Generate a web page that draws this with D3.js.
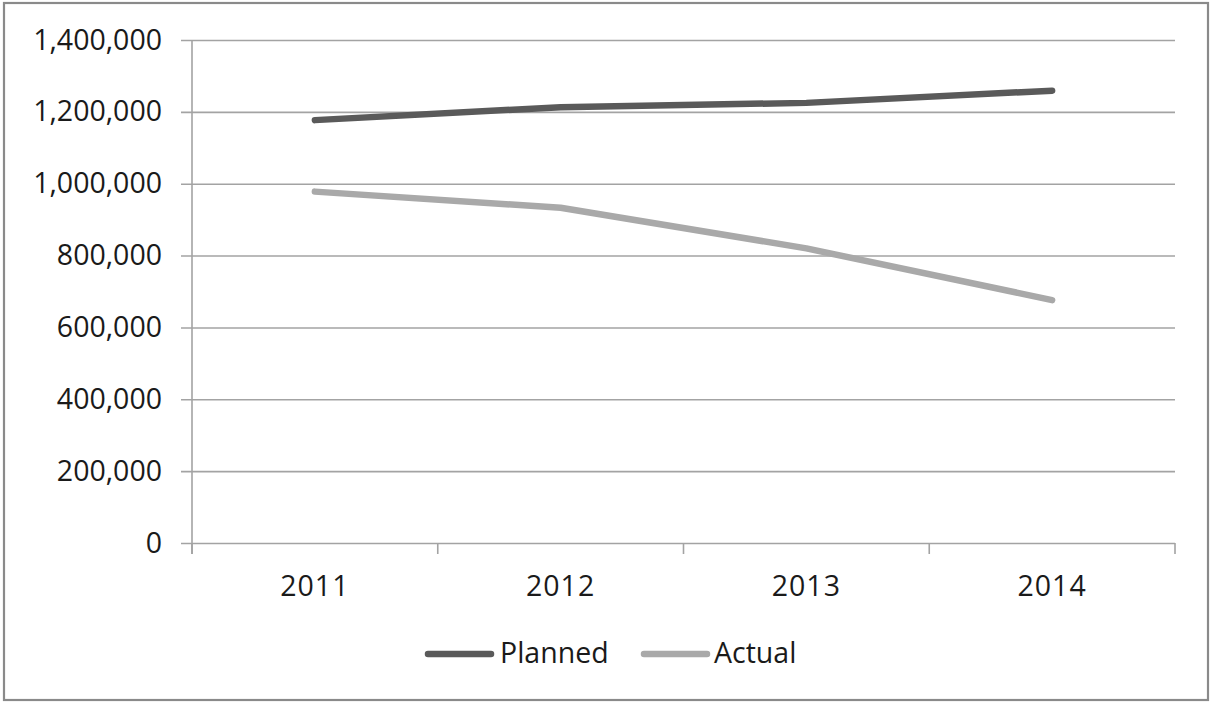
<!DOCTYPE html>
<html>
<head>
<meta charset="utf-8">
<script src="https://cdn.jsdelivr.net/npm/d3@7"></script>
<style>
  html, body { margin: 0; padding: 0; background: #fff; }
  svg { display: block; }
  text { font-family: "Open Sans", "Noto Sans", sans-serif; fill: #1a1a1a; }
</style>
</head>
<body>
<svg id="chart" width="1210" height="702"></svg>
<script>
// Chart data
const years = ["2011", "2012", "2013", "2014"];
const planned = [1177000, 1213000, 1225000, 1259000];
const actual = [978000, 933000, 820000, 676000];
const yTicks = [0, 200000, 400000, 600000, 800000, 1000000, 1200000, 1400000];
const seriesNames = ["Planned", "Actual"];
const seriesColors = ["#5a5a5a", "#a9a9a9"];

const m = { left: 192, right: 1175, top: 40, bottom: 543 };
const fontSize = "28.5px";

const svg = d3.select("#chart");

// outer frame
svg.append("rect")
  .attr("x", 4).attr("y", 3)
  .attr("width", 1204).attr("height", 697)
  .attr("fill", "#fff")
  .attr("stroke", "#8a8a8a")
  .attr("stroke-width", 2.2);

const x = d3.scaleBand().domain(years).range([m.left, m.right]);
const y = d3.scaleLinear().domain([0, 1400000]).range([m.bottom, m.top]);

const gridColor = "#a3a3a3";
const fmt = d3.format(",");

// horizontal gridlines + y axis labels
const yAxis = d3.axisLeft(y)
  .tickValues(yTicks)
  .tickFormat(fmt)
  .tickSize(-(m.right - m.left))
  .tickPadding(30);

const gy = svg.append("g")
  .attr("transform", `translate(${m.left},0)`)
  .call(yAxis);
gy.select(".domain").remove();
gy.selectAll(".tick line")
  .attr("x1", -11)
  .attr("stroke", gridColor)
  .attr("stroke-width", 1.6);
gy.selectAll(".tick text")
  .attr("x", -30)
  .style("font-size", fontSize)
  .style("font-family", '"Open Sans", sans-serif')
  .attr("fill", "#1a1a1a");

// vertical axis line
svg.append("line")
  .attr("x1", m.left).attr("x2", m.left)
  .attr("y1", m.top).attr("y2", m.bottom + 11)
  .attr("stroke", gridColor).attr("stroke-width", 1.6);

// category axis
const bounds = years.map(d => x(d)).concat([m.right]);
svg.append("g").selectAll("line")
  .data(bounds)
  .join("line")
  .attr("x1", d => d).attr("x2", d => d)
  .attr("y1", m.bottom).attr("y2", m.bottom + 11)
  .attr("stroke", gridColor).attr("stroke-width", 1.6);

svg.append("g").selectAll("text")
  .data(years)
  .join("text")
  .attr("x", d => x(d) + x.bandwidth() / 2)
  .attr("y", 596)
  .attr("text-anchor", "middle")
  .style("font-size", fontSize)
  .style("letter-spacing", "1px")
  .text(d => d);

// series lines
const line = d3.line()
  .x((d, i) => x(years[i]) + x.bandwidth() / 2)
  .y(d => y(d));

[planned, actual].forEach((vals, k) => {
  svg.append("path")
    .datum(vals)
    .attr("d", line)
    .attr("fill", "none")
    .attr("stroke", seriesColors[k])
    .attr("stroke-width", 6.5)
    .attr("stroke-linecap", "round")
    .attr("stroke-linejoin", "round");
});

// legend
const legendItems = [
  { x1: 428, x2: 491, tx: 500 },
  { x1: 644, x2: 707, tx: 714 }
];
const lg = svg.append("g");
legendItems.forEach((it, k) => {
  lg.append("line")
    .attr("x1", it.x1).attr("x2", it.x2)
    .attr("y1", 654).attr("y2", 654)
    .attr("stroke", seriesColors[k])
    .attr("stroke-width", 6.5)
    .attr("stroke-linecap", "round");
  lg.append("text")
    .attr("x", it.tx).attr("y", 663)
    .style("font-size", fontSize)
    .text(seriesNames[k]);
});
</script>
</body>
</html>
